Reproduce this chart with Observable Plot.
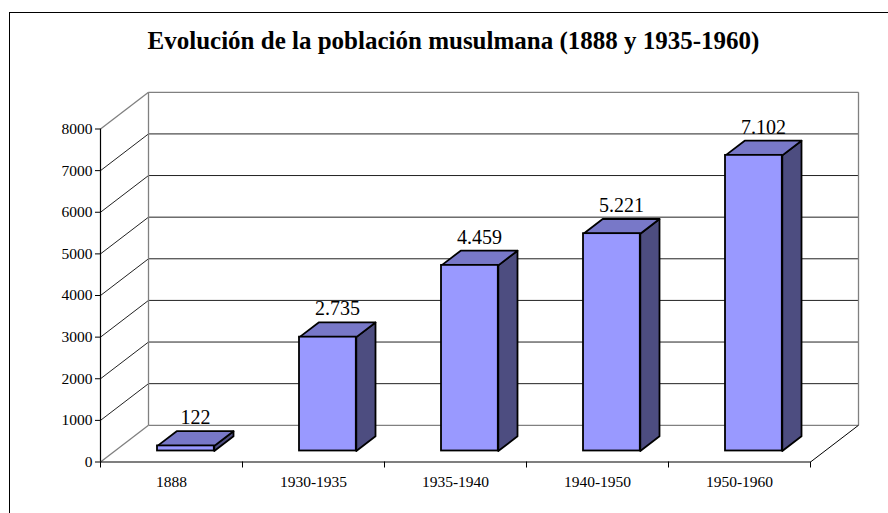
<!DOCTYPE html>
<html>
<head>
<meta charset="utf-8">
<script src="https://cdn.jsdelivr.net/npm/d3@7"></script>
<script src="https://cdn.jsdelivr.net/npm/@observablehq/plot@0.6"></script>
<style>
  html, body { margin: 0; padding: 0; background: #fff; overflow: hidden; width: 888px; height: 513px; }
  #wrap { position: relative; width: 888px; height: 513px; }
  #border { position: absolute; left: 9px; top: 12px; width: 1200px; height: 1200px; border-left: 1px solid #000; border-top: 1px solid #000; }
  #title { position: absolute; left: 0; top: 26px; width: 907px; text-align: center; font-family: "Liberation Serif", "Times New Roman", serif; font-weight: bold; font-size: 25px; line-height: 30px; color: #000; }
  #chart { position: absolute; left: 0; top: 0; }
</style>
</head>
<body>
<div id="wrap">
  <div id="border"></div>
  <div id="chart"></div>
  <div id="title">Evolución de la población musulmana (1888 y 1935-1960)</div>
</div>
<script>
const categories = ["1888", "1930-1935", "1935-1940", "1940-1950", "1950-1960"];
const values = [122, 2735, 4459, 5221, 7102];
const valueLabels = ["122", "2.735", "4.459", "5.221", "7.102"];
const yTicks = [0, 1000, 2000, 3000, 4000, 5000, 6000, 7000, 8000];

// oblique depth of the 3D box, in data units (x: categories, y: values)
const DX = 48 / 142;
const DY = 882;
const F0 = 0.3, F1 = 0.7;   // bar depth front/back
const W0 = 0.3, W1 = 0.7;   // bar width inside band
const N = categories.length;
const yMax = yTicks[yTicks.length - 1];

const bars = categories.map((c, i) => ({c, i, v: values[i], label: valueLabels[i]}));

const poly = (c, pts) => [...pts, pts[0]].map(([x, y]) => ({c, x, y}));
const topFaces = bars.flatMap(b => poly(b.c, [
  [b.i + W0 + F0 * DX, b.v + F0 * DY],
  [b.i + W1 + F0 * DX, b.v + F0 * DY],
  [b.i + W1 + F1 * DX, b.v + F1 * DY],
  [b.i + W0 + F1 * DX, b.v + F1 * DY]
]));
const sideFaces = bars.flatMap(b => poly(b.c, [
  [b.i + W1 + F0 * DX, F0 * DY],
  [b.i + W1 + F1 * DX, F1 * DY],
  [b.i + W1 + F1 * DX, b.v + F1 * DY],
  [b.i + W1 + F0 * DX, b.v + F0 * DY]
]));

const innerTicks = yTicks.slice(1, -1);
const edgeTicks = [yTicks[0], yMax];

const gridColor = "#222";
const wallColor = "#808080";

const plot = Plot.plot({
  width: 888,
  height: 513,
  marginLeft: 100,
  marginRight: 78,
  marginTop: 128.5,
  marginBottom: 51.5,
  style: {fontFamily: "'Liberation Serif', 'Times New Roman', serif", fontSize: "15.5px", background: "transparent", color: "#000"},
  x: {domain: [0, N], label: null},
  y: {domain: [0, yMax], label: null},
  marks: [
    // back wall gridlines
    Plot.link(innerTicks, {x1: DX, x2: N + DX, y1: d => d + DY, y2: d => d + DY, stroke: gridColor, strokeWidth: 1}),
    // left wall diagonals
    Plot.link(innerTicks, {x1: 0, x2: DX, y1: d => d, y2: d => d + DY, stroke: gridColor, strokeWidth: 1}),
    // wall edges
    Plot.link(edgeTicks, {x1: DX, x2: N + DX, y1: d => d + DY, y2: d => d + DY, stroke: wallColor, strokeWidth: 1.3}),
    Plot.link(edgeTicks, {x1: 0, x2: DX, y1: d => d, y2: d => d + DY, stroke: wallColor, strokeWidth: 1.3}),
    Plot.link([0, N], {x1: d => d + DX, x2: d => d + DX, y1: DY, y2: yMax + DY, stroke: wallColor, strokeWidth: 1.3}),
    // floor right edge
    Plot.link([N], {x1: d => d, x2: d => d + DX, y1: 0, y2: DY, stroke: "#000", strokeWidth: 1}),
    // front axes
    Plot.ruleY([0], {stroke: "#000", strokeWidth: 1.2}),
    Plot.ruleX([0], {stroke: "#000", strokeWidth: 1.2}),
    Plot.axisY({ticks: yTicks, tickFormat: "d", tickSize: 5, tickPadding: 3, fontSize: 15.5, label: null}),
    Plot.axisX({ticks: d3.range(N + 1), tickFormat: () => "", tickSize: 6, label: null}),
    Plot.text(bars, {x: d => d.i + 0.5, y: 0, text: "c", lineAnchor: "bottom", dy: 24.5, fontSize: 15.5}),
    // bars
    Plot.line(sideFaces, {x: "x", y: "y", z: "c", fill: "#4D4D80", stroke: "#000", strokeWidth: 1.8, curve: "linear"}),
    Plot.line(topFaces, {x: "x", y: "y", z: "c", fill: "#7878C8", stroke: "#000", strokeWidth: 1.8, curve: "linear"}),
    Plot.rect(bars, {x1: d => d.i + W0 + F0 * DX, x2: d => d.i + W1 + F0 * DX, y1: F0 * DY, y2: d => d.v + F0 * DY, fill: "#9999FF", stroke: "#000", strokeWidth: 1.8}),
    // value labels
    Plot.text(bars, {x: d => d.i + 0.5 + 0.5 * DX, y: d => d.v + F1 * DY, text: "label", lineAnchor: "bottom", dy: -7, fontSize: 20})
  ]
});
document.getElementById("chart").appendChild(plot);
</script>
</body>
</html>
